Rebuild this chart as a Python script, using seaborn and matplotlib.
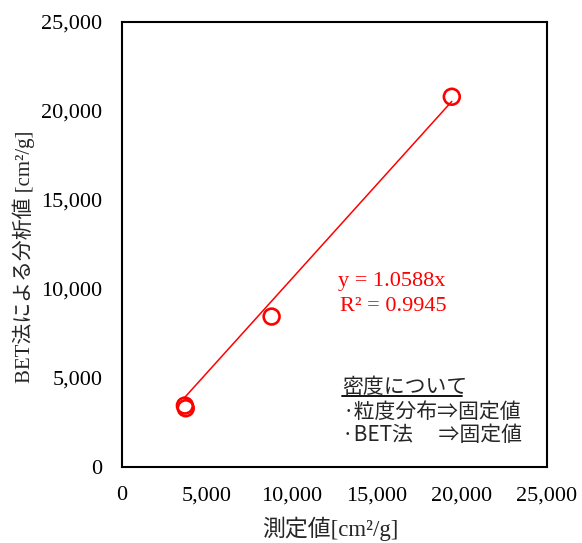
import matplotlib
matplotlib.use("Agg")
import matplotlib.pyplot as plt
import numpy as np
import pandas as pd
import seaborn as sns

# measured vs BET specific surface area [cm2/g]
measured = [3700, 3750, 8800, 19400]
bet_value = [3450, 3300, 8450, 20800]
slope = 1.0588
r_squared = 0.9945

x_ticks = [0, 5000, 10000, 15000, 20000, 25000]
y_ticks = [0, 5000, 10000, 15000, 20000, 25000]

SERIF = ["Liberation Serif", "Noto Sans CJK JP", "DejaVu Sans"]
SANS = ["Noto Sans CJK JP", "DejaVu Sans"]

sns.set_theme(style="white")
plt.rcParams["font.family"] = SERIF

df = pd.DataFrame({"measured": measured, "bet": bet_value})
fit_x = np.array([min(measured), max(measured)])
fit = pd.DataFrame({"x": fit_x, "y": slope * fit_x})

fig = plt.figure(figsize=(5.82, 5.43), dpi=100)
ax = fig.add_axes([0.2096, 0.140, 0.7303, 0.8195])

sns.lineplot(data=fit, x="x", y="y", color="#ff0000", linewidth=1.1, ax=ax)
sns.scatterplot(data=df, x="measured", y="bet", ax=ax, s=130,
                facecolor="none", edgecolor="#ff0000", linewidth=1.9, zorder=3)

ax.set_xlim(0, 25000)
ax.set_ylim(0, 25000)
ax.set_xticks(x_ticks)
ax.set_yticks(y_ticks)
ax.set_xticklabels([f"{v:,}" for v in x_ticks])
ax.set_yticklabels([f"{v:,}" for v in y_ticks])
ax.tick_params(direction="in", length=6, width=1.5, labelsize=16, pad=14,
               colors="black")
for sp in ax.spines.values():
    sp.set_color("black")
    sp.set_linewidth(1.5)

ax.set_xlabel("測定値[cm²/g]", fontsize=16.5)
ax.xaxis.set_label_coords(0.49, -0.112)
ax.set_ylabel("BET法による分析値 [cm²/g]", fontsize=15)
ax.yaxis.set_label_coords(-0.205, 0.472)

ax.text(0.508, 0.417, f"y = {slope}x", transform=ax.transAxes, color="#ff0000",
        fontsize=16, va="center", ha="left")
ax.text(0.513, 0.361, f"R² = {r_squared}", transform=ax.transAxes,
        color="#ff0000", fontsize=16, va="center", ha="left")

ax.text(0.518, 0.180, "密度について", transform=ax.transAxes, fontsize=15,
        va="center", ha="left", family=SANS)
ax.plot([0.518, 0.800], [0.159, 0.159], transform=ax.transAxes,
        color="black", linewidth=1.3)
ax.text(0.518, 0.124, "·粒度分布⇒固定値", transform=ax.transAxes, fontsize=15,
        va="center", ha="left", family=SANS)
ax.text(0.518, 0.071, "·BET法　 ⇒固定値", transform=ax.transAxes, fontsize=15,
        va="center", ha="left", family=SANS)

fig.savefig("out.png", dpi=100)
